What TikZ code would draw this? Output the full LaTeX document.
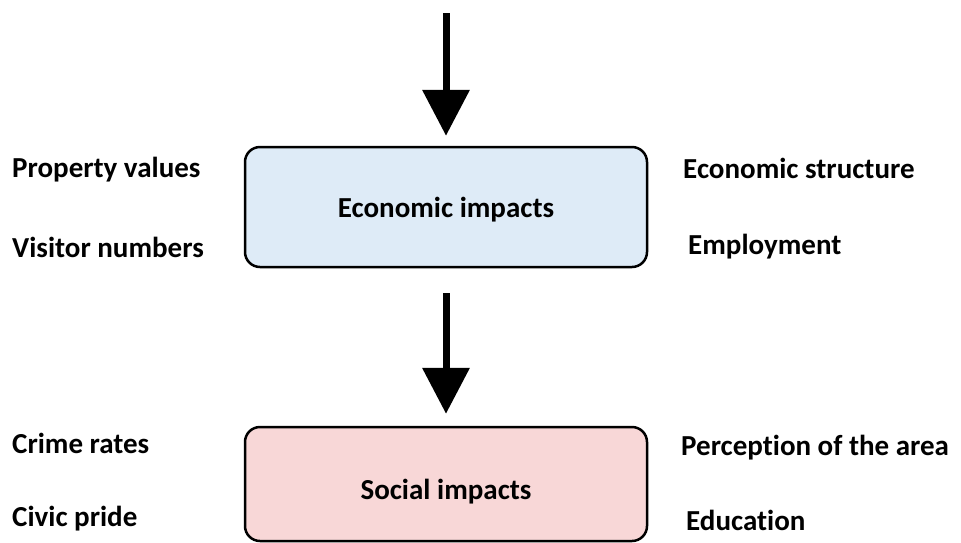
\documentclass[tikz,border=0pt]{standalone}
\usepackage{fontspec}
\setmainfont[Ligatures=NoCommon]{Carlito}
\usetikzlibrary{arrows.meta}
\definecolor{econfill}{RGB}{222,235,247}
\definecolor{socfill}{RGB}{248,215,215}
\begin{document}
\begin{tikzpicture}[x=1pt,y=-1pt,
  impactbox/.style={draw=black, line width=2.5pt, rounded corners=15pt, minimum width=402pt, inner sep=0pt, text depth=0pt, font=\fontsize{29}{32}\selectfont\bfseries},
  lbl/.style={anchor=west, inner sep=0pt, font=\fontsize{29}{32}\selectfont\bfseries},
  bigarrow/.style={line width=7pt, -{Triangle[length=46pt,width=46pt]}}]
\useasboundingbox (0,0) rectangle (961,542);
\node[impactbox, fill=econfill, minimum height=120pt, text height=20pt] (econ) at (446,207) {Economic impacts};
\node[impactbox, fill=socfill, minimum height=114pt, text height=30pt] (soc) at (446,484) {Social impacts};
\coordinate (start) at (446,13);
\draw[bigarrow, shorten >=10pt] (start) -- (econ.north);
\draw[bigarrow, shorten <=25pt, shorten >=12pt] (econ.south) -- (soc.north);
\node[lbl] (pv) at (12,170) {Property values};
\node[lbl] (vn) at (12,247) {Visitor numbers};
\node[lbl] (es) at (683,168) {Economic structure};
\node[lbl] (em) at (688,247) {Employment};
\node[lbl] (cr) at (12,443) {Crime rates};
\node[lbl] (cp) at (12,519) {Civic pride};
\node[lbl] (pa) at (681,448) {Perception of the area};
\node[lbl] (ed) at (686,520) {Education};
\end{tikzpicture}
\end{document}
